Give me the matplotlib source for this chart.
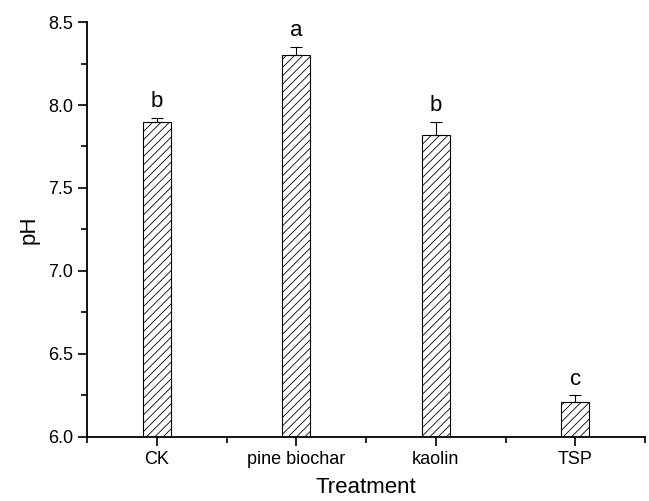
import matplotlib
matplotlib.use("Agg")
import matplotlib.pyplot as plt
import numpy as np
from matplotlib.ticker import MultipleLocator

plt.rcParams['font.family'] = ['Liberation Sans', 'DejaVu Sans']
plt.rcParams['hatch.color'] = '#555555'
plt.rcParams['hatch.linewidth'] = 0.6

treatments = ["CK", "pine biochar", "kaolin", "TSP"]
ph = [7.90, 8.30, 7.82, 6.21]
err = [0.02, 0.05, 0.08, 0.04]
letters = ["b", "a", "b", "c"]

fig = plt.figure(figsize=(6.49, 5.01), dpi=100)
ax = fig.add_axes([0.134, 0.128, 0.86, 0.828])

x = np.arange(len(treatments))
ax.bar(x, ph, width=0.2, color="white", edgecolor="black", linewidth=0.8,
       hatch="////", zorder=2)
ax.errorbar(x, ph, yerr=[np.zeros(len(err)), err], fmt="none", ecolor="black",
            elinewidth=0.8, capsize=4, capthick=0.8, zorder=3)
for xi, v, e, s in zip(x, ph, err, letters):
    ax.text(xi, v + e + 0.035, s, ha="center", va="bottom", fontsize=16)

ax.set_xlim(-0.5, 3.5)
ax.set_ylim(6.0, 8.5)
ax.set_xticks(x)
ax.set_xticklabels(treatments, fontsize=13)
ax.xaxis.set_minor_locator(MultipleLocator(1, offset=0.5))
ax.yaxis.set_major_locator(MultipleLocator(0.5))
ax.yaxis.set_minor_locator(MultipleLocator(0.25))
ax.yaxis.set_major_formatter(matplotlib.ticker.FormatStrFormatter("%.1f"))
ax.tick_params(axis="y", labelsize=13)
ax.tick_params(which="major", direction="out", length=6.5, width=1.2)
ax.tick_params(which="minor", direction="out", length=4, width=1.2)

for side in ["top", "right"]:
    ax.spines[side].set_visible(False)
for side in ["left", "bottom"]:
    ax.spines[side].set_linewidth(1.3)

ax.set_xlabel("Treatment", fontsize=16, labelpad=7)
ax.set_ylabel("pH", fontsize=16, labelpad=6)

fig.savefig("out.png", dpi=100)
